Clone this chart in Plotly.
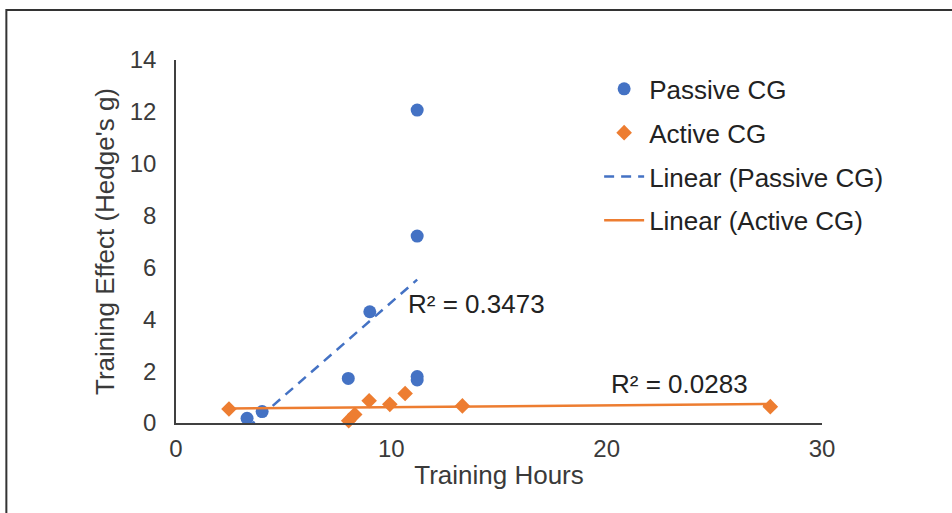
import numpy as np
import plotly.graph_objects as go

# Training hours vs. effect size (Hedge's g)
passive_hours = [3.3, 4.0, 8.0, 9.0, 11.2, 11.2, 11.2, 11.2]
passive_effect = [0.18, 0.44, 1.72, 4.29, 12.07, 7.21, 1.79, 1.66]

active_hours = [2.46, 8.3, 8.02, 8.97, 9.93, 10.64, 13.3, 27.6]
active_effect = [0.54, 0.33, 0.09, 0.86, 0.72, 1.14, 0.66, 0.63]

r2_passive = "R² = 0.3473"
r2_active = "R² = 0.0283"

BLUE = "#4472C4"
ORANGE = "#ED7D31"
TEXT = "#3a3a3a"
FONT = "Liberation Sans, Arial, sans-serif"


def linear_fit(x, y):
    slope, intercept = np.polyfit(x, y, 1)
    xs = np.array([min(x), max(x)])
    return xs, slope * xs + intercept


px_fit_x, px_fit_y = linear_fit(passive_hours, passive_effect)
ac_fit_x, ac_fit_y = linear_fit(active_hours, active_effect)

fig = go.Figure()
fig.add_trace(go.Scatter(
    x=passive_hours, y=passive_effect, mode="markers", name="Passive CG",
    legendgroup="a", cliponaxis=False,
    marker=dict(symbol="circle", size=13, color=BLUE),
))
fig.add_trace(go.Scatter(
    x=active_hours, y=active_effect, mode="markers", name="Active CG",
    legendgroup="b", cliponaxis=False,
    marker=dict(symbol="diamond", size=12, color=ORANGE),
))
fig.add_trace(go.Scatter(
    x=px_fit_x, y=px_fit_y, mode="lines", name="Linear (Passive CG)",
    legendgroup="c",
    line=dict(color=BLUE, width=2.5, dash="10px,7px"),
))
fig.add_trace(go.Scatter(
    x=ac_fit_x, y=ac_fit_y, mode="lines", name="Linear (Active CG)",
    legendgroup="d",
    line=dict(color=ORANGE, width=2.5),
))

fig.add_annotation(x=10.7, y=4.6, text=r2_passive, showarrow=False,
                   xanchor="left", yanchor="middle",
                   font=dict(size=26, color="#222", family=FONT))
fig.add_annotation(x=20.1, y=1.5, text=r2_active, showarrow=False,
                   xanchor="left", yanchor="middle",
                   font=dict(size=26, color="#222", family=FONT))

# outer frame of the chart area
fig.add_shape(type="rect", xref="paper", yref="paper",
              x0=-0.2626, x1=2.0, y0=-1.0, y1=1.1377,
              line=dict(color="#333", width=2), fillcolor="rgba(0,0,0,0)")

fig.update_layout(
    width=952, height=513,
    margin=dict(l=176, r=130, t=60, b=90),
    paper_bgcolor="white", plot_bgcolor="white",
    font=dict(family=FONT, size=24, color=TEXT),
    legend=dict(
        x=0.655, y=0.985, xanchor="left", yanchor="top",
        bgcolor="rgba(0,0,0,0)", tracegroupgap=7, itemwidth=40,
        font=dict(size=26, color="#222"),
    ),
    xaxis=dict(
        range=[0, 30], tickvals=[0, 10, 20, 30], showgrid=False, zeroline=False,
        showline=True, linecolor="#404040", linewidth=1.5,
        ticks="outside", ticklen=3, tickcolor="rgba(0,0,0,0)",
        tickfont=dict(size=24, color=TEXT),
        title=dict(text="Training Hours", standoff=5, font=dict(size=26, color=TEXT)),
    ),
    yaxis=dict(
        range=[0, 14], tickvals=[0, 2, 4, 6, 8, 10, 12, 14], showgrid=False,
        zeroline=False, showline=True, linecolor="#404040", linewidth=1.5,
        ticks="outside", ticklen=13, tickcolor="rgba(0,0,0,0)",
        tickfont=dict(size=24, color=TEXT),
        title=dict(text="Training Effect (Hedge's g)", standoff=8,
                   font=dict(size=26, color=TEXT)),
    ),
)

fig.write_html("out.html")
